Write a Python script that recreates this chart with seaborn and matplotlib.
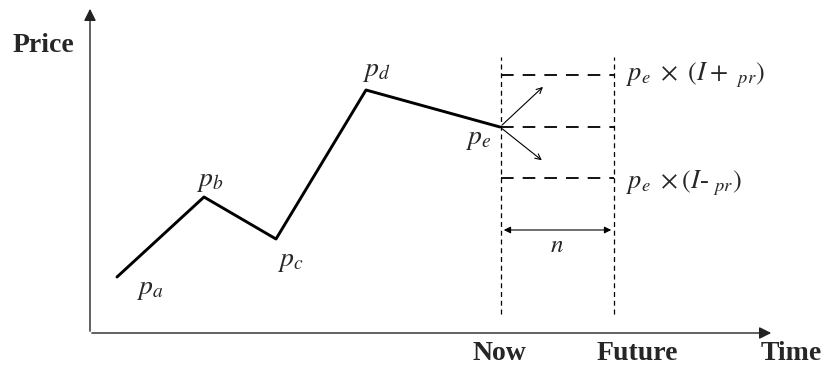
import matplotlib.pyplot as plt
import seaborn as sns
import pandas as pd

# price path (x = time position, y = price level)
points = ['a', 'b', 'c', 'd', 'e']
time = [117, 204, 276, 366, 500]
price = [95, 175, 133, 282, 245]

# forecast window
now_x = 501
future_x = 614
band_up = 297
band_low = 194

sns.set_style("white")
plt.rcParams['font.family'] = ['Liberation Serif', 'DejaVu Serif']
plt.rcParams['mathtext.fontset'] = 'stix'

fig = plt.figure(figsize=(8.26, 3.72), dpi=100)
ax = fig.add_axes([0, 0, 1, 1])
ax.set_xlim(0, 826)
ax.set_ylim(0, 372)
ax.axis('off')

# axes arrows
ax.annotate('', xy=(774, 39), xytext=(89, 39),
            arrowprops=dict(arrowstyle='-|>', color='#222222', lw=1.0, mutation_scale=18))
ax.annotate('', xy=(90, 366), xytext=(90, 38),
            arrowprops=dict(arrowstyle='-|>', color='#222222', lw=1.0, mutation_scale=18))

# price path
df = pd.DataFrame({'time': time, 'price': price})
sns.lineplot(data=df, x='time', y='price', color='black', linewidth=2.1, ax=ax, sort=False)

# vertical dashed lines
for xv in [now_x, future_x]:
    ax.plot([xv, xv], [58, 315], color='black', lw=0.9, ls=(0, (4, 3)))

# horizontal dashed band lines
for yv in [band_up, price[-1], band_low]:
    ax.plot([now_x, future_x], [yv, yv], color='black', lw=1.3, ls=(0, (7, 5)))

# up / down arrows from p_e
ax.annotate('', xy=(545, 287), xytext=(time[-1], price[-1]),
            arrowprops=dict(arrowstyle='->', color='black', lw=0.8))
ax.annotate('', xy=(544, 210), xytext=(time[-1], price[-1]),
            arrowprops=dict(arrowstyle='->', color='black', lw=0.8))

# n window arrow
ax.annotate('', xy=(future_x, 142), xytext=(now_x, 142),
            arrowprops=dict(arrowstyle='<|-|>', color='black', lw=0.8, mutation_scale=10))
ax.text(557, 126, r'$n$', fontsize=18, ha='center', va='center')

# point labels
label_pos = {'a': (150, 82), 'b': (210, 190), 'c': (290, 110), 'd': (376, 300), 'e': (478, 232)}
for p in points:
    lx, ly = label_pos[p]
    ax.text(lx, ly, r'$p_{%s}$' % p, fontsize=20, ha='center', va='center')

ax.text(626, 297, r'$p_e\ \times\ (I+\ _{pr})$', fontsize=19, ha='left', va='center')
ax.text(626, 189, r'$p_e\ \times(I$-$\ _{pr})$', fontsize=19, ha='left', va='center')

# axis titles
ax.text(43, 326, 'Price', fontsize=20, fontweight='bold', ha='center', va='center')
ax.text(499, 19, 'Now', fontsize=20, fontweight='bold', ha='center', va='center')
ax.text(637, 19, 'Future', fontsize=20, fontweight='bold', ha='center', va='center')
ax.text(791, 19, 'Time', fontsize=20, fontweight='bold', ha='center', va='center')

plt.savefig('out.png', dpi=100)
